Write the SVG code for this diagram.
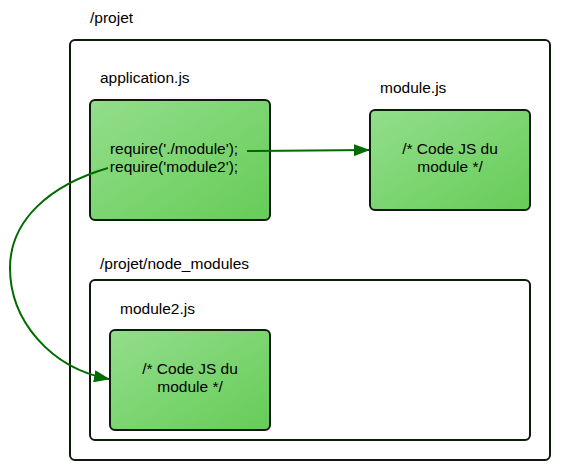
<svg xmlns="http://www.w3.org/2000/svg" width="563" height="476" viewBox="0 0 563 476">
<defs>
<linearGradient id="g" x1="0" y1="0" x2="1" y2="1">
<stop offset="0" stop-color="#93de8c"/>
<stop offset="1" stop-color="#66cc57"/>
</linearGradient>
<marker id="ah" markerWidth="16" markerHeight="12" refX="15" refY="6" orient="auto" markerUnits="userSpaceOnUse">
<path d="M0,0 L16,6 L0,12 Z" fill="#006b00"/>
</marker>
<style>
.t{font-family:"Liberation Sans",Arial,sans-serif;font-size:15.5px;fill:#000}
.c{text-anchor:middle}
.box{fill:#fff;stroke:#0d1a0d;stroke-width:2}
.file{fill:url(#g);stroke:#0d1a0d;stroke-width:2}
.edge{fill:none;stroke:#006b00;stroke-width:2}
</style>
</defs>
<rect width="563" height="476" fill="#fff"/>
<g id="projet">
<text class="t" x="90" y="23">/projet</text>
<rect class="box" x="70" y="40" width="480" height="420" rx="5"/>
</g>
<g id="node_modules">
<text class="t" x="100" y="269">/projet/node_modules</text>
<rect class="box" x="90" y="280" width="440" height="160" rx="5"/>
</g>
<g id="application">
<text class="t" x="100" y="83">application.js</text>
<rect class="file" x="90" y="100" width="180" height="120" rx="5"/>
<text class="t c" x="174" y="154">require('./module');</text>
<text class="t c" x="174" y="172">require('module2');</text>
</g>
<g id="module">
<text class="t" x="380" y="93">module.js</text>
<rect class="file" x="370" y="110" width="160" height="100" rx="5"/>
<text class="t c" x="450" y="154">/* Code JS du</text>
<text class="t c" x="450" y="172">module */</text>
</g>
<g id="module2">
<text class="t" x="120" y="314">module2.js</text>
<rect class="file" x="110" y="330" width="160" height="100" rx="5"/>
<text class="t c" x="190" y="374">/* Code JS du</text>
<text class="t c" x="190" y="392">module */</text>
</g>
<g id="connectors">
<path class="edge" d="M247,151 L369,150" marker-end="url(#ah)"/>
<path class="edge" d="M108,168 C50,185 10,220 10,268 C10,320 50,368 109,379" marker-end="url(#ah)"/>
</g>
</svg>
